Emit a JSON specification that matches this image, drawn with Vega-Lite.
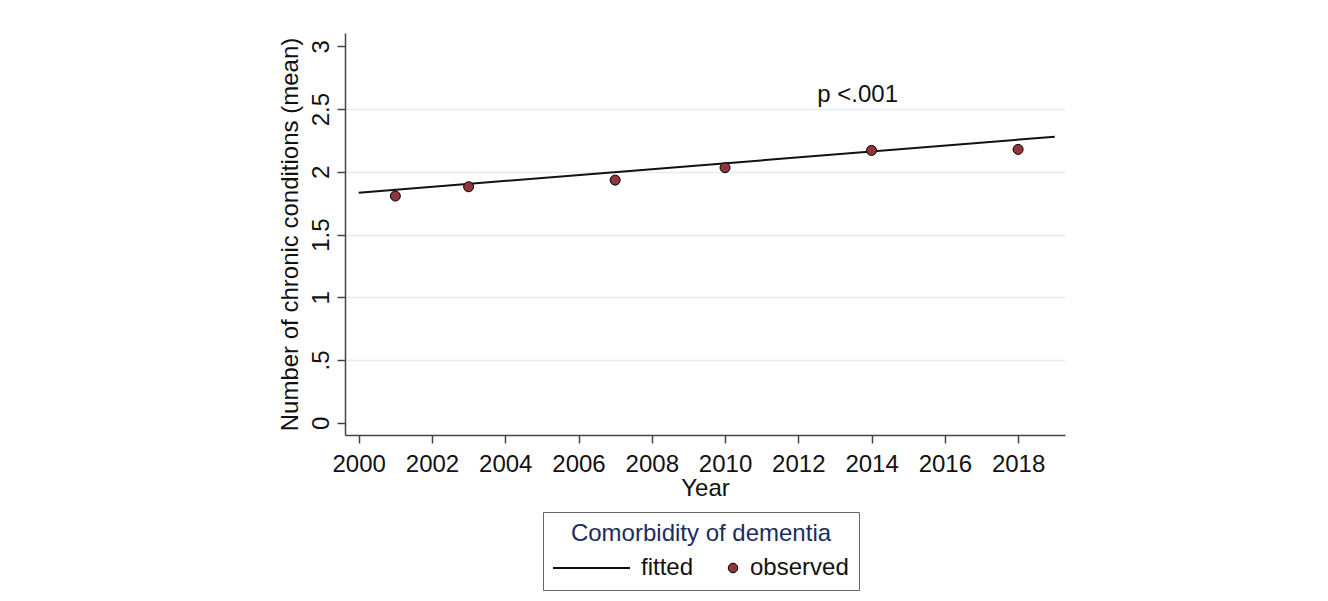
{
  "$schema": "https://vega.github.io/schema/vega-lite/v6.json",
  "width": 720,
  "height": 402,
  "autosize": {"type": "none"},
  "padding": {"left": 345, "top": 33, "right": 263, "bottom": 166},
  "background": "white",
  "config": {"view": {"stroke": null}, "font": "Liberation Sans"},
  "layer": [
    {
      "data": {"values": [
        {"year": 2000, "value": 1.833, "series": "fitted"},
        {"year": 2019, "value": 2.28, "series": "fitted"}
      ]},
      "mark": {"type": "line", "strokeWidth": 2},
      "encoding": {
        "x": {
          "field": "year", "type": "quantitative",
          "scale": {"domain": [1999.626, 2019.28], "nice": false, "zero": false},
          "axis": {
            "title": "Year",
            "values": [2000, 2002, 2004, 2006, 2008, 2010, 2012, 2014, 2016, 2018],
            "format": "d",
            "grid": false,
            "labelFlush": false,
            "labelOverlap": false,
            "tickSize": 8,
            "tickColor": "#444444",
            "tickWidth": 1.5,
            "domainColor": "#444444",
            "domainWidth": 1.5,
            "labelFontSize": 24,
            "labelColor": "#111111",
            "labelPadding": 9,
            "titleFontSize": 24,
            "titleFontWeight": "normal",
            "titleColor": "#111111",
            "titlePadding": 0
          }
        },
        "y": {
          "field": "value", "type": "quantitative",
          "scale": {"domain": [-0.098, 3.107], "nice": false, "zero": false},
          "axis": {
            "title": "Number of chronic conditions (mean)",
            "values": [0, 0.5, 1, 1.5, 2, 2.5, 3],
            "format": "~g",
            "labelExpr": "datum.value == 0.5 ? '.5' : datum.label",
            "labelAngle": -90,
            "labelAlign": "center",
            "labelBaseline": "bottom",
            "grid": true,
            "gridColor": "#e4eef1",
            "gridWidth": 1.5,
            "gridOpacity": {"condition": {"test": "datum.value == 0 || datum.value == 3", "value": 0}, "value": 1},
            "tickSize": 8,
            "tickColor": "#444444",
            "tickWidth": 1.5,
            "domainColor": "#444444",
            "domainWidth": 1.5,
            "labelFontSize": 24,
            "labelColor": "#111111",
            "labelPadding": 4,
            "titleFontSize": 24,
            "titleFontWeight": "normal",
            "titleColor": "#111111",
            "titlePadding": 7
          }
        },
        "stroke": {
          "field": "series", "type": "nominal",
          "scale": {"domain": ["fitted"], "range": ["#111111"]},
          "legend": {
            "title": null,
            "orient": "none",
            "legendX": 207,
            "legendY": 495.5,
            "symbolType": "stroke",
            "symbolSize": 5929,
            "symbolStrokeWidth": 2,
            "symbolOpacity": 1,
            "labelOffset": 10,
            "labelFontSize": 24,
            "labelColor": "#111111",
            "labelLimit": 300,
            "padding": 0
          }
        }
      }
    },
    {
      "data": {"values": [
        {"year": 2001, "value": 1.807, "series": "observed"},
        {"year": 2003, "value": 1.881, "series": "observed"},
        {"year": 2007, "value": 1.934, "series": "observed"},
        {"year": 2010, "value": 2.033, "series": "observed"},
        {"year": 2014, "value": 2.171, "series": "observed"},
        {"year": 2018, "value": 2.179, "series": "observed"}
      ]},
      "mark": {"type": "point", "shape": "circle", "filled": true, "size": 100, "stroke": "#000000", "strokeWidth": 1, "opacity": 1},
      "encoding": {
        "x": {"field": "year", "type": "quantitative"},
        "y": {"field": "value", "type": "quantitative"},
        "fill": {
          "field": "series", "type": "nominal",
          "scale": {"domain": ["observed"], "range": ["#90353b"]},
          "legend": {
            "title": "Comorbidity of dementia",
            "orient": "none",
            "legendX": 198,
            "legendY": 479,
            "titleFontSize": 24,
            "titleFontWeight": "normal",
            "titleColor": "#1c2d5e",
            "titleAnchor": "middle",
            "titleLimit": 500,
            "titlePadding": 10,
            "labelFontSize": 24,
            "labelColor": "#111111",
            "labelLimit": 300,
            "symbolSize": 100,
            "symbolStrokeColor": "#000000",
            "symbolStrokeWidth": 1,
            "symbolOpacity": 1,
            "labelOffset": 173,
            "padding": 10,
            "strokeColor": "#666666",
            "encode": {
              "symbols": {
                "update": {
                  "shape": {"value": "M34.55,0A0.95,0.95,0,1,1,32.65,0A0.95,0.95,0,1,1,34.55,0Z"},
                  "stroke": {"value": "#000000"},
                  "strokeWidth": {"value": 1},
                  "opacity": {"value": 1}
                }
              }
            }
          }
        }
      }
    },
    {
      "data": {"values": [
        {"year": 2013.62, "value": 2.559, "label": "p <.001"}
      ]},
      "mark": {"type": "text", "fontSize": 24, "align": "center", "baseline": "alphabetic", "color": "#111111"},
      "encoding": {
        "x": {"field": "year", "type": "quantitative"},
        "y": {"field": "value", "type": "quantitative"},
        "text": {"field": "label"}
      }
    }
  ]
}
